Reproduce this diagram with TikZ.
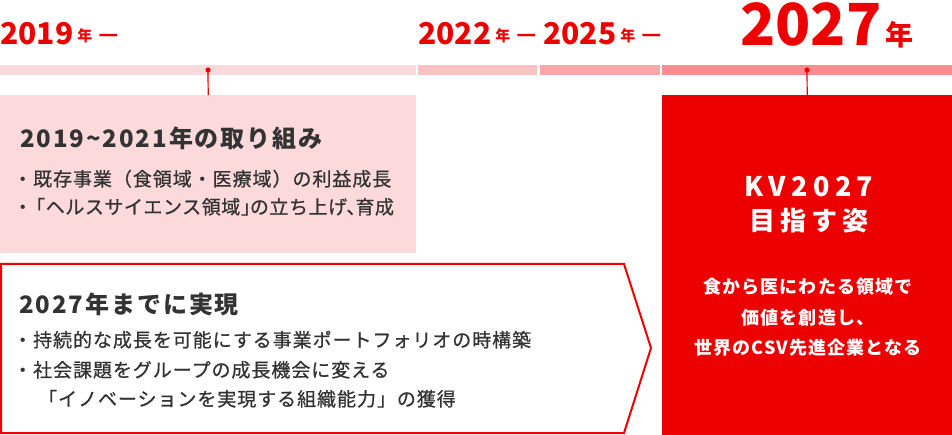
\documentclass[tikz,border=0pt]{standalone}
\usepackage{fontspec}
\setmainfont{Noto Sans CJK JP}
\newfontfamily\bodyfont[LetterSpace=5,FakeBold=0.8]{Noto Sans CJK JP}
\newfontfamily\headfont[LetterSpace=8]{Noto Sans CJK JP}
\newfontfamily\kvfont[LetterSpace=20]{Noto Sans CJK JP}
\usetikzlibrary{positioning}
\definecolor{kvred}{RGB}{236,0,0}
\definecolor{kvgray}{RGB}{51,51,51}
\definecolor{barA}{RGB}{252,217,218}
\definecolor{barB}{RGB}{250,194,195}
\definecolor{barC}{RGB}{248,168,169}
\definecolor{barD}{RGB}{246,142,143}
\newcommand{\fsz}[1]{\fontsize{#1}{#1}\selectfont}
\newcommand{\yearlbl}[1]{{\fsz{30}\bfseries #1}\hspace{4pt}\raisebox{3pt}{\fsz{15}\bfseries 年}\hspace{5pt}\raisebox{1.5pt}{\fsz{22}\bodyfont ー}}

\begin{document}
\begin{tikzpicture}[x=1pt,y=-1pt,
  yr/.style={anchor=base west,inner sep=0,text=kvred},
  head/.style={anchor=base west,inner sep=0,text=kvgray,font=\headfont\bfseries\fsz{24}},
  item/.style={anchor=base west,inner sep=0,text=kvgray,font=\bodyfont\fsz{19}},
  vision/.style={anchor=base,inner sep=0,text=white,font=\kvfont\addfontfeature{LetterSpace=6}\bfseries\fsz{18}}]
\useasboundingbox (0,0) rectangle (952,435);
%---------------- years
\node[yr] (yrA) at (0,45) {\yearlbl{2019}};
\node[yr] (yrB) at (418,45) {\yearlbl{2022}};
\node[yr] (yrC) at (543,45) {\yearlbl{2025}};
\node[yr,text height=44pt] (yrD) at (740,45.5) {{\fsz{58}\bfseries 2027}\hspace{4pt}{\fsz{28}\bfseries 年}};

%---------------- timeline bar
\fill[barA] (0,65) rectangle (416,75);
\fill[barB] (418,65) rectangle (537,75);
\fill[barC] (540,65) rectangle (660,75);
\fill[barD] (662,65) rectangle (952,75);

%---------------- 2019-2021 (left)
\node[fill=barA,anchor=north west,inner sep=0,minimum width=416pt,minimum height=158pt] (now) at (0,95) {};
\node[head] (nowT) at (20,148) {2019\textasciitilde 2021年の取り組み};
\node[item] (nowA) at (13,186) {・既存事業（食領域・医療域）の利益成長};
\node[item,font=\bodyfont\addfontfeature{LetterSpace=3}\fsz{19}] (nowB) at (13,214)
  {・\kern-6pt「ヘルスサイエンス領域」\kern-10pt の立ち上げ、\kern-10pt 育成};

%---------------- by 2027 (arrow)
\draw[kvred,line width=2pt,line join=miter] (1,264) -- (624,264) -- (651,348) -- (624,433) -- (1,433) -- cycle;
\node[head] (goalT) at (19,313) {2027年までに実現};
\node[item] (goalA) at (13,347) {・持続的な成長を可能にする事業ポートフォリオの時構築};
\node[item] (goalB) at (13,377) {・社会課題をグループの成長機会に変える};
\node[item] (goalC) at (38,406) {「イノベーションを実現する組織能力」の獲得};

%---------------- KV2027 (right)
\node[fill=kvred,anchor=north west,inner sep=0,minimum width=290pt,minimum height=340pt] (kv) at (662,95) {};
\node[anchor=base,inner sep=0,text=white,font=\kvfont\bfseries\fsz{27}] (kvT) at (809,197) {KV2027};
\node[anchor=base,inner sep=0,text=white,font=\kvfont\bfseries\fsz{26}] (kvS) at (809,231) {目指す姿};
\node[vision] (kvA) at (808,294) {食から医にわたる領域で};
\node[vision] (kvB) at (808,324) {価値を創造し、};
\node[vision] (kvC) at (808,354) {世界のCSV先進企業となる};

%---------------- markers
\coordinate (dotA) at (208,70);
\coordinate (dotB) at (807,70);
\fill[kvred] (dotA) circle (2.6pt);
\fill[kvred] (dotB) circle (2.6pt);
\draw[kvred,line width=1.2pt] (dotA) -- (now.north);
\draw[kvred,line width=1.2pt] (dotB) -- (kv.north);
\end{tikzpicture}
\end{document}
